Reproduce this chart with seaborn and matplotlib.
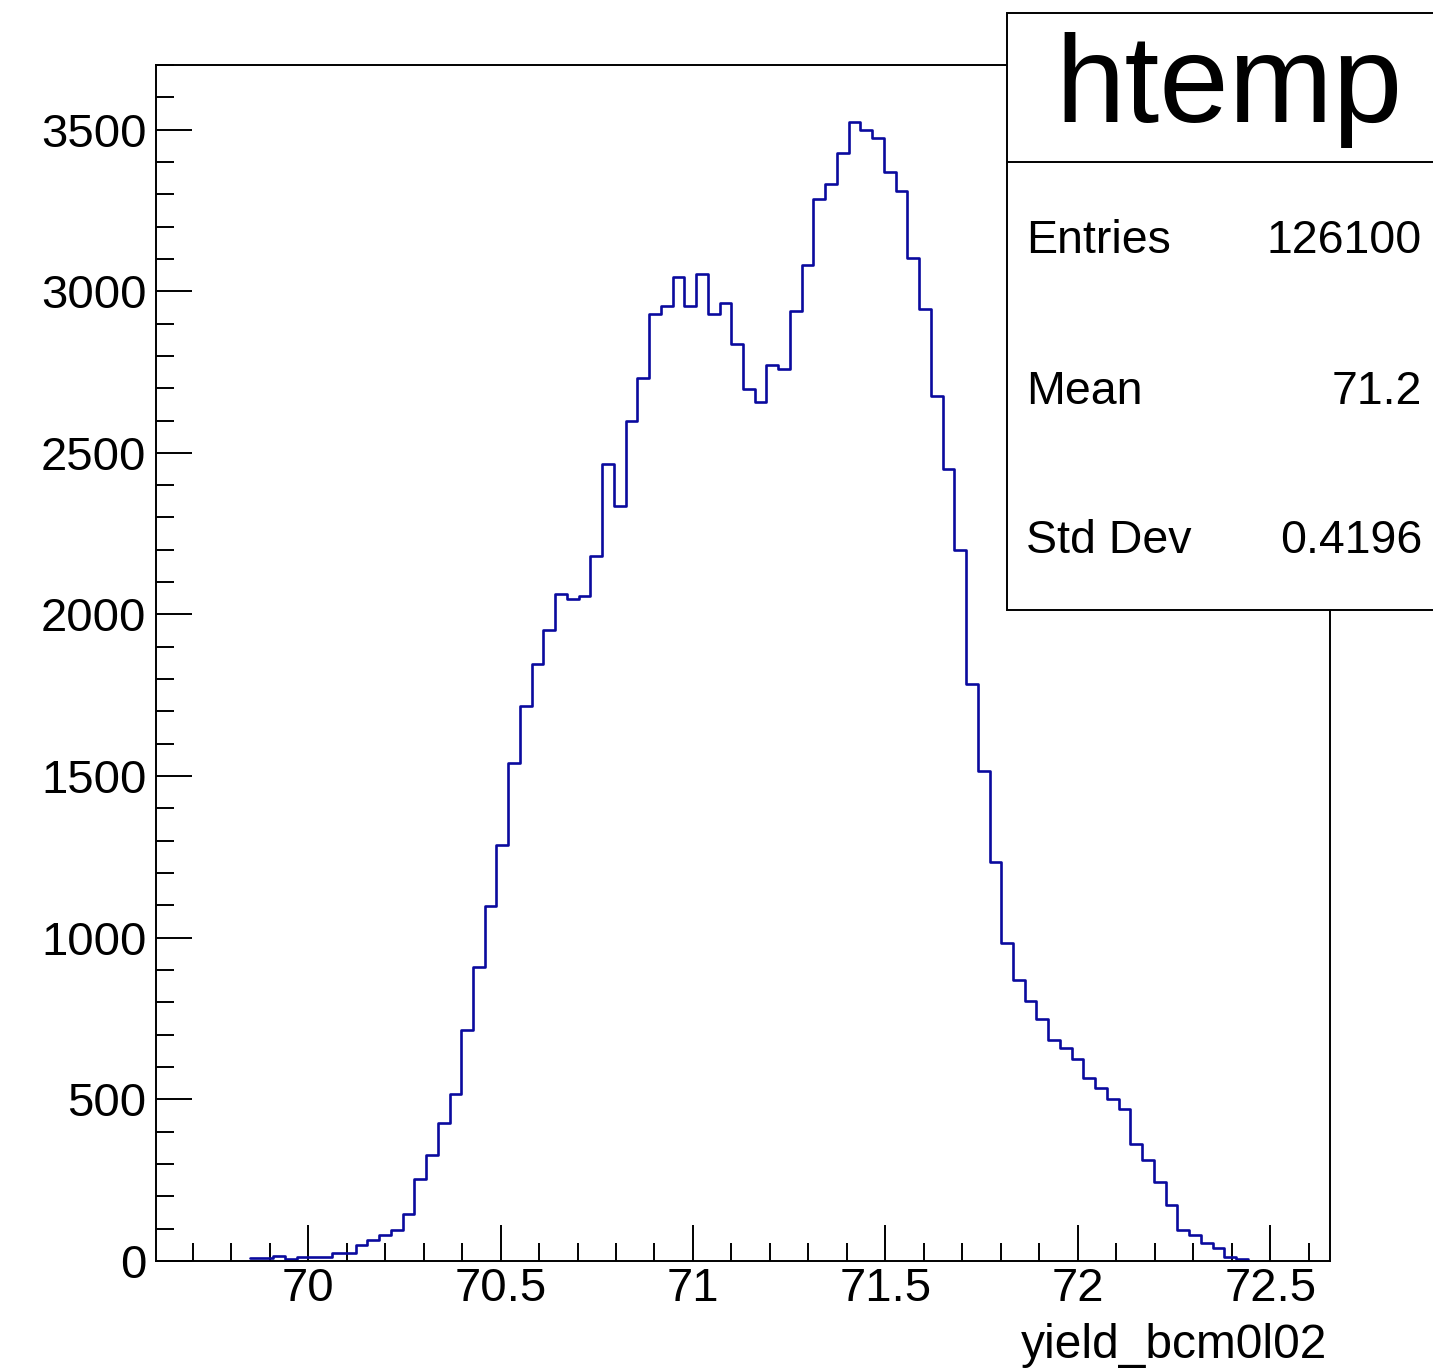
import numpy as np
import pandas as pd
import matplotlib
matplotlib.use("Agg")
import matplotlib.pyplot as plt
from matplotlib.patches import Rectangle
from matplotlib.ticker import MultipleLocator
import seaborn as sns

# histogram range (100 bins, ROOT htemp)
x_min, x_max = 69.605, 72.655
bin_width = 0.0305
first_bin = 8  # first non-empty bin

# bin contents (bins 8..92)
counts = [8, 8, 14, 5, 13, 13, 13, 24, 24, 48,
          64, 81, 97, 146, 255, 327, 427, 518, 716, 908,
          1098, 1288, 1542, 1717, 1848, 1951, 2063, 2048, 2056, 2180,
          2466, 2335, 2598, 2732, 2930, 2954, 3045, 2954, 3054, 2930,
          2964, 2837, 2698, 2657, 2772, 2758, 2940, 3082, 3286, 3333,
          3428, 3523, 3498, 3475, 3368, 3310, 3103, 2945, 2675, 2449,
          2199, 1786, 1515, 1234, 985, 870, 805, 748, 684, 658,
          625, 567, 535, 501, 469, 361, 313, 245, 173, 96,
          80, 57, 39, 13, 5]

stat_labels = ["Entries", "Mean", "Std Dev"]
stat_values = ["126100", "71.2", "0.4196"]

edges = x_min + bin_width * np.arange(first_bin, first_bin + len(counts) + 1)
df = pd.DataFrame({"x": (edges[:-1] + edges[1:]) / 2, "n": counts})

sns.set_style("ticks")
plt.rcParams['font.family'] = ['Liberation Sans', 'DejaVu Sans']
plt.rcParams['text.color'] = 'black'

fig = plt.figure(figsize=(14.33, 13.70), dpi=100)
ax = fig.add_axes([0.1089, 0.0796, 0.8192, 0.8730])

sns.histplot(data=df, x="x", weights="n", bins=list(edges), element="step", fill=False,
             color="#0a0a9e", linewidth=1.9, ax=ax)

ax.set_xlim(x_min, x_max)
ax.set_ylim(0, 3700)
ax.set_xlabel("")
ax.set_ylabel("")

ax.xaxis.set_major_locator(MultipleLocator(0.5))
ax.xaxis.set_minor_locator(MultipleLocator(0.1))
ax.yaxis.set_major_locator(MultipleLocator(500))
ax.yaxis.set_minor_locator(MultipleLocator(100))
ax.xaxis.set_major_formatter(matplotlib.ticker.FuncFormatter(lambda v, p: f"{v:g}"))

ax.tick_params(which="both", direction="in", top=False, right=False, width=1.4, colors="black")
ax.tick_params(which="major", length=26)
ax.tick_params(which="minor", length=13)
ax.tick_params(axis="x", which="major", labelsize=34, pad=4)
ax.tick_params(axis="y", which="major", labelsize=34, pad=7)
for s in ax.spines.values():
    s.set_linewidth(1.4)
    s.set_color("black")

# axis title, right aligned like ROOT
fig.text(0.926, 0.0088, "yield_bcm0l02", fontsize=34.5, color="black", ha="right", va="baseline")

# stats box
fig.add_artist(Rectangle((0.7027, 0.5547), 0.31, 0.9905 - 0.5547, transform=fig.transFigure,
                         facecolor="white", edgecolor="black", linewidth=1.4, zorder=5))
fig.add_artist(plt.Line2D([0.7027, 1.0], [0.8818, 0.8818], transform=fig.transFigure,
                          color="black", linewidth=1.4, zorder=6))
fig.text(0.8576, 0.9109, "htemp", fontsize=90, color="black", ha="center", va="baseline", zorder=7)
for lab, val, yb in zip(stat_labels, stat_values, [0.8153, 0.7051, 0.5964]):
    fig.text(0.716, yb, lab, fontsize=33.5, color="black", ha="left", va="baseline", zorder=7)
    fig.text(0.9923, yb, val, fontsize=33.5, color="black", ha="right", va="baseline", zorder=7)

fig.savefig("out.png", dpi=100)
